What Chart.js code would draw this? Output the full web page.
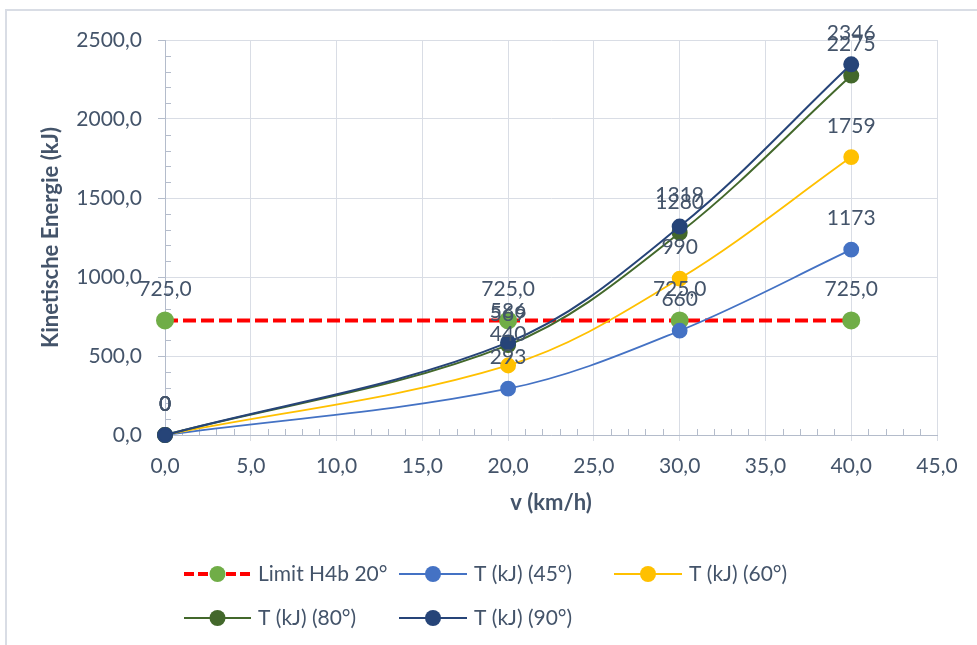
<!DOCTYPE html>
<html>
<head>
<meta charset="utf-8">
<script src="https://cdn.jsdelivr.net/npm/chart.js@4/dist/chart.umd.min.js"></script>
<style>
  html, body { margin: 0; padding: 0; background: #fff; }
  #wrap { width: 977px; height: 645px; position: relative; }
</style>
</head>
<body>
<div id="wrap"><canvas id="c" width="977" height="645"></canvas></div>
<script>
// Geschwindigkeit (km/h)
const speeds = [0, 20, 30, 40];
// Grenzwert H4b 20° (kJ)
const limitH4b = [725, 725, 725, 725];
// Kinetische Energie je Winkel (kJ)
const t45 = [0, 293, 660, 1173];
const t60 = [0, 440, 990, 1759];
const t80 = [0, 569, 1280, 2275];
const t90 = [0, 586, 1319, 2346];

const seriesNames = ['Limit H4b 20°', 'T (kJ) (45°)', 'T (kJ) (60°)', 'T (kJ) (80°)', 'T (kJ) (90°)'];
const xTicks = [0, 5, 10, 15, 20, 25, 30, 35, 40, 45];
const yTicks = [0, 500, 1000, 1500, 2000, 2500];
const yTitle = 'Kinetische Energie (kJ)';
const xTitle = 'v (km/h)';

const FONT = 'Lato, "Open Sans", sans-serif';
const TEXT = '#44546A';
const GRID = '#D9DDE5';
const AXIS = '#B4BCCB';

const fmt = (v, d) => v.toFixed(d).replace('.', ',');
const pts = ys => speeds.map((x, i) => ({ x, y: ys[i] }));

function series(label, ys, line, marker, opts) {
  return Object.assign({
    label,
    data: pts(ys),
    showLine: true,
    clip: false,
    borderColor: line,
    backgroundColor: marker,
    pointBackgroundColor: marker,
    pointBorderColor: marker,
    pointRadius: 7,
    pointHoverRadius: 7,
    borderWidth: 2,
    tension: 0.35,
    decimals: 0
  }, opts || {});
}

const datasets = [
  series(seriesNames[0], limitH4b, '#FF0000', '#70AD47', { borderWidth: 4, borderDash: [13, 5], tension: 0, decimals: 1, order: 5 }),
  series(seriesNames[1], t45, '#4472C4', '#4472C4', { borderWidth: 1.8, order: 4 }),
  series(seriesNames[2], t60, '#FFC000', '#FFC000', { borderWidth: 1.8, order: 3 }),
  series(seriesNames[3], t80, '#43682B', '#43682B', { order: 2 }),
  series(seriesNames[4], t90, '#264478', '#264478', { order: 1 })
];

// outer frame of the chart object
const framePlugin = {
  id: 'frame',
  beforeDraw(chart) {
    const ctx = chart.ctx;
    ctx.save();
    ctx.fillStyle = '#fff';
    ctx.fillRect(0, 0, chart.width, chart.height);
    ctx.strokeStyle = '#D9DDE5';
    ctx.lineWidth = 2;
    ctx.strokeRect(6, 10, chart.width + 20, chart.height + 20);
    ctx.restore();
  }
};

// minor tick marks on both axes, pointing into the plot area
const minorTicks = {
  id: 'minorTicks',
  beforeDatasetsDraw(chart) {
    const { ctx, scales: { x, y } } = chart;
    ctx.save();
    ctx.strokeStyle = AXIS;
    ctx.lineWidth = 1;
    const x0 = x.getPixelForValue(0);
    const y0 = y.getPixelForValue(0);
    ctx.beginPath();
    for (let v = 100; v < 2500; v += 100) {
      if (v % 500 === 0) continue;
      const py = Math.round(y.getPixelForValue(v)) + 0.5;
      ctx.moveTo(x0, py); ctx.lineTo(x0 + 6, py);
    }
    for (let v = 1; v < 45; v += 1) {
      if (v % 5 === 0) continue;
      const px = Math.round(x.getPixelForValue(v)) + 0.5;
      ctx.moveTo(px, y0); ctx.lineTo(px, y0 - 6);
    }
    ctx.stroke();
    ctx.restore();
  }
};

// vertical axis title, centred on the plot height
const yTitlePlugin = {
  id: 'yTitle',
  afterDraw(chart) {
    const { ctx, chartArea } = chart;
    ctx.save();
    ctx.translate(51, (chartArea.top + chartArea.bottom) / 2);
    ctx.rotate(-Math.PI / 2);
    ctx.font = 'bold 22px ' + FONT;
    ctx.fillStyle = TEXT;
    ctx.textAlign = 'center';
    ctx.textBaseline = 'middle';
    ctx.fillText(yTitle, 0, 0);
    ctx.restore();
  }
};

// value labels above each marker
const valueLabels = {
  id: 'valueLabels',
  afterDatasetsDraw(chart) {
    const ctx = chart.ctx;
    ctx.save();
    ctx.font = '21px ' + FONT;
    ctx.fillStyle = TEXT;
    ctx.textAlign = 'center';
    ctx.textBaseline = 'middle';
    chart.data.datasets.forEach((ds, i) => {
      const meta = chart.getDatasetMeta(i);
      meta.data.forEach((pt, j) => {
        ctx.fillText(fmt(ds.data[j].y, ds.decimals), pt.x, pt.y - 31);
      });
    });
    ctx.restore();
  }
};

// legend below the plot, two rows
const legendBox = {
  id: 'legendBox',
  afterDraw(chart) {
    const ctx = chart.ctx;
    const slots = [
      { x0: 184, x1: 251, y: 574 },
      { x0: 399, x1: 467, y: 574 },
      { x0: 614, x1: 682, y: 574 },
      { x0: 184, x1: 251, y: 618 },
      { x0: 399, x1: 467, y: 618 }
    ];
    ctx.save();
    chart.data.datasets.forEach((ds, i) => {
      const s = slots[i];
      ctx.strokeStyle = ds.borderColor;
      ctx.lineWidth = ds.borderDash ? 4 : 2;
      ctx.setLineDash(ds.borderDash ? [10, 4] : []);
      ctx.beginPath();
      ctx.moveTo(s.x0, s.y); ctx.lineTo(s.x1, s.y);
      ctx.stroke();
      ctx.setLineDash([]);
      ctx.fillStyle = ds.pointBackgroundColor;
      ctx.beginPath();
      ctx.arc((s.x0 + s.x1) / 2, s.y, 8, 0, Math.PI * 2);
      ctx.fill();
      ctx.font = '21px ' + FONT;
      ctx.fillStyle = TEXT;
      ctx.textAlign = 'left';
      ctx.textBaseline = 'middle';
      ctx.fillText(ds.label, s.x1 + 7, s.y);
    });
    ctx.restore();
  }
};

new Chart(document.getElementById('c'), {
  type: 'scatter',
  data: { datasets },
  options: {
    responsive: false,
    animation: false,
    events: [],
    layout: { padding: { left: 0, top: 40, right: 40, bottom: 0 } },
    plugins: {
      legend: { display: false },
      tooltip: { enabled: false }
    },
    scales: {
      x: {
        type: 'linear',
        min: 0, max: 45,
        afterBuildTicks: s => { s.ticks = xTicks.map(v => ({ value: v })); },
        afterFit: s => { s.height = 210; },
        grid: { color: GRID, lineWidth: 1, tickLength: 6, tickColor: GRID },
        border: { color: AXIS, width: 1 },
        ticks: {
          padding: 13,
          color: TEXT,
          font: { family: FONT, size: 21 },
          maxRotation: 0,
          callback: v => fmt(v, 1)
        },
        title: {
          display: true,
          text: xTitle,
          color: TEXT,
          font: { family: FONT, size: 22, weight: 'bold' },
          padding: { top: 0, bottom: 129 }
        }
      },
      y: {
        type: 'linear',
        min: 0, max: 2500,
        afterBuildTicks: s => { s.ticks = yTicks.map(v => ({ value: v })); },
        afterFit: s => { s.width = 165; },
        grid: { color: GRID, lineWidth: 1, tickLength: 7, tickColor: AXIS },
        border: { color: AXIS, width: 1 },
        ticks: {
          padding: 16,
          color: TEXT,
          font: { family: FONT, size: 21 },
          callback: v => fmt(v, 1)
        },
        title: { display: false }
      }
    }
  },
  plugins: [framePlugin, minorTicks, yTitlePlugin, valueLabels, legendBox]
});
</script>
</body>
</html>
